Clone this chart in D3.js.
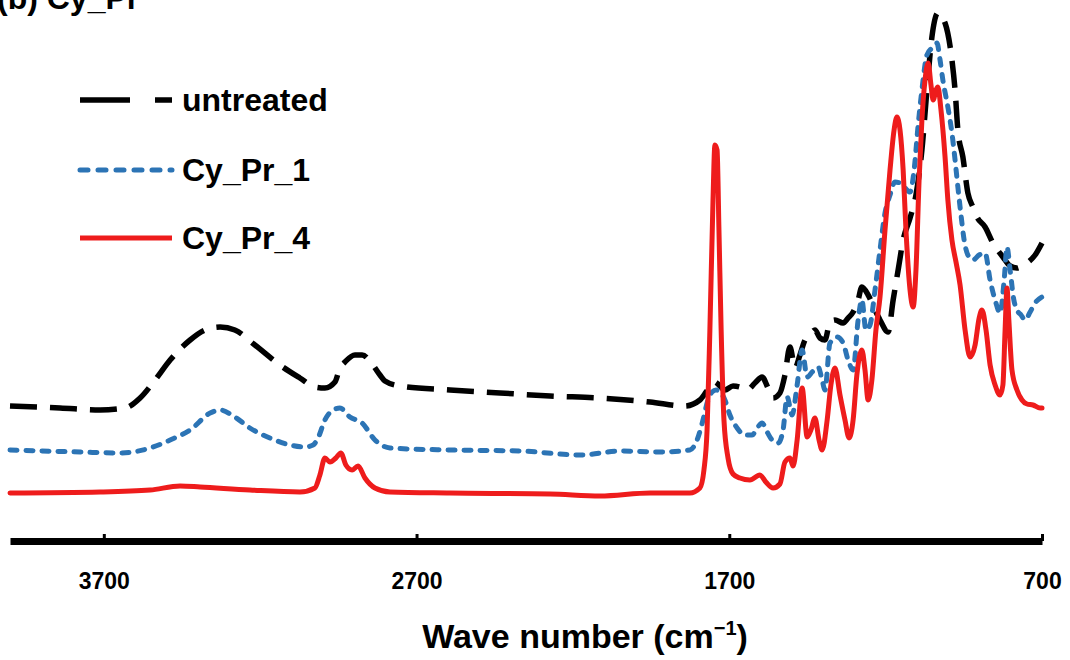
<!DOCTYPE html>
<html>
<head>
<meta charset="utf-8">
<script src="https://cdn.jsdelivr.net/npm/d3@7"></script>
<style>
  html, body { margin: 0; padding: 0; background: #fff; }
  svg { display: block; font-family: Arial, "Liberation Sans", sans-serif; }
</style>
</head>
<body>
<svg id="chart" width="1070" height="660"></svg>
<script>
// FTIR spectra, [wavenumber (cm-1), absorbance (a.u., offset)]
const untreated = [
  [4000,1.34],[3840,1.32],[3712,1.30],[3632,1.32],[3584,1.42],[3536,1.60],[3488,1.80],
  [3424,2.00],[3376,2.10],[3328,2.13],[3281,2.10],[3217,1.95],[3137,1.75],[3073,1.62],
  [3025,1.53],[2993,1.52],[2961,1.58],[2945,1.72],[2929,1.78],[2897,1.85],[2874,1.85],
  [2842,1.76],[2817,1.65],[2801,1.59],[2753,1.54],[2593,1.50],[2433,1.47],[2273,1.44],
  [2113,1.42],[1953,1.38],[1842,1.34],[1794,1.40],[1774,1.48],[1758,1.55],[1746,1.58],
  [1733,1.55],[1714,1.50],[1688,1.54],[1666,1.53],[1643,1.50],[1618,1.57],[1595,1.63],
  [1576,1.52],[1560,1.42],[1538,1.47],[1522,1.65],[1506,1.93],[1490,1.72],[1474,1.85],
  [1458,2.00],[1442,2.05],[1426,2.10],[1410,2.02],[1394,2.00],[1378,2.18],[1362,2.20],
  [1336,2.17],[1320,2.22],[1304,2.28],[1288,2.40],[1276,2.53],[1256,2.45],[1234,2.30],
  [1218,2.20],[1192,2.08],[1176,2.40],[1160,2.70],[1144,3.00],[1122,3.22],[1103,3.45],
  [1084,3.90],[1068,4.50],[1052,5.03],[1033,5.27],[1010,5.17],[988,4.80],[978,4.50],
  [969,4.10],[953,3.83],[937,3.47],[921,3.33],[908,3.23],[882,3.13],[857,2.97],
  [825,2.83],[802,2.74],[780,2.72],[764,2.74],[748,2.77],[722,2.85],[700,2.97]
];

const cyPr1 = [
  [4000,0.90],[3776,0.88],[3648,0.87],[3552,0.92],[3488,1.00],[3424,1.10],[3360,1.27],
  [3328,1.30],[3281,1.23],[3233,1.12],[3169,1.02],[3105,0.95],[3057,0.93],[3031,0.95],
  [3015,1.02],[2993,1.20],[2967,1.30],[2945,1.32],[2913,1.23],[2874,1.17],[2833,1.00],
  [2785,0.92],[2593,0.90],[2369,0.89],[2177,0.85],[2049,0.89],[1921,0.88],[1826,0.90],
  [1803,1.00],[1784,1.20],[1768,1.40],[1755,1.48],[1742,1.50],[1730,1.48],[1714,1.40],
  [1698,1.25],[1675,1.12],[1650,1.05],[1627,1.05],[1611,1.12],[1595,1.17],[1579,1.08],
  [1563,1.00],[1544,0.97],[1528,1.10],[1515,1.43],[1499,1.25],[1483,1.55],[1467,1.90],
  [1451,1.63],[1435,1.68],[1416,1.73],[1403,1.60],[1394,1.50],[1378,1.97],[1355,2.03],
  [1336,1.97],[1320,1.80],[1304,1.70],[1288,2.20],[1276,2.40],[1263,2.10],[1250,2.15],
  [1234,2.50],[1218,2.90],[1202,3.27],[1186,3.45],[1170,3.58],[1154,3.57],[1138,3.52],
  [1122,3.48],[1109,3.70],[1096,4.15],[1084,4.50],[1068,4.85],[1052,4.92],[1036,4.97],
  [1026,4.80],[1017,4.60],[1001,4.33],[988,4.07],[978,3.80],[969,3.53],[959,3.25],
  [949,3.00],[937,2.85],[921,2.80],[901,2.85],[882,2.87],[866,2.60],[850,2.40],
  [834,2.27],[821,2.60],[812,2.93],[802,2.70],[790,2.40],[780,2.30],[767,2.25],
  [754,2.20],[738,2.28],[722,2.37],[700,2.43]
];

const cyPr4 = [
  [4000,0.47],[3712,0.48],[3552,0.50],[3456,0.54],[3392,0.53],[3233,0.50],[3073,0.48],
  [3025,0.52],[3009,0.65],[2993,0.82],[2977,0.78],[2958,0.82],[2942,0.87],[2926,0.75],
  [2906,0.70],[2887,0.74],[2865,0.62],[2833,0.52],[2785,0.48],[2593,0.47],[2273,0.46],
  [2113,0.44],[1953,0.47],[1826,0.47],[1794,0.52],[1781,0.70],[1771,1.10],[1762,2.10],
  [1752,3.40],[1746,3.95],[1739,3.90],[1733,3.10],[1726,2.10],[1717,1.20],[1704,0.82],
  [1688,0.66],[1666,0.62],[1634,0.60],[1602,0.65],[1583,0.58],[1560,0.52],[1538,0.56],
  [1522,0.78],[1506,0.82],[1496,0.74],[1483,1.00],[1467,1.52],[1451,1.03],[1439,1.10],
  [1426,1.22],[1413,1.00],[1403,0.90],[1387,1.20],[1375,1.55],[1362,1.72],[1346,1.45],
  [1330,1.20],[1317,1.02],[1304,1.20],[1292,1.65],[1276,1.90],[1266,1.70],[1256,1.40],
  [1244,1.60],[1231,2.10],[1218,2.43],[1202,3.10],[1186,3.70],[1173,4.10],[1164,4.23],
  [1154,4.10],[1144,3.70],[1135,3.10],[1122,2.50],[1112,2.33],[1103,2.70],[1093,3.60],
  [1084,4.20],[1074,4.60],[1064,4.77],[1055,4.55],[1048,4.40],[1039,4.50],[1033,4.53],
  [1023,4.30],[1010,3.83],[1001,3.40],[988,3.00],[975,2.78],[962,2.55],[946,2.10],
  [930,1.83],[914,1.95],[901,2.22],[892,2.30],[879,2.10],[866,1.75],[850,1.55],
  [834,1.45],[825,1.55],[818,2.10],[812,2.52],[806,2.20],[796,1.70],[780,1.50],
  [764,1.40],[748,1.36],[729,1.35],[706,1.32],[700,1.32]
];

const seriesNames = ["untreated", "Cy_Pr_1", "Cy_Pr_4"];
const tickValues = [3700, 2700, 1700, 700];
const panelTitle = "(b) Cy_Pr";

const svg = d3.select("#chart");

const x = d3.scaleLinear().domain([4000, 700]).range([10, 1042]);
const y = d3.scaleLinear().domain([0, 5.4]).range([540, 0]);

const styles = [
  { data: untreated, color: "#000000", width: 5.5, dash: "27,13", cap: "butt" },
  { data: cyPr1, color: "#2c74b5", width: 5, dash: "7,9", cap: "round" },
  { data: cyPr4, color: "#ee1c1c", width: 5, dash: null, cap: "round" }
];

const line = d3.line()
  .x(d => x(d[0]))
  .y(d => y(d[1]))
  .curve(d3.curveMonotoneX);

// spectra
svg.append("g").selectAll("path")
  .data(styles)
  .join("path")
  .attr("d", s => line(s.data))
  .attr("fill", "none")
  .attr("stroke", s => s.color)
  .attr("stroke-width", s => s.width)
  .attr("stroke-dasharray", s => s.dash)
  .attr("stroke-linecap", s => s.cap)
  .attr("stroke-linejoin", "round");

// x axis: thick baseline, short ticks pointing up into the plot
const axis = d3.axisBottom(x)
  .tickValues(tickValues)
  .tickFormat(d3.format("d"))
  .tickSizeInner(-7)
  .tickSizeOuter(0)
  .tickPadding(32);

const gx = svg.append("g")
  .attr("transform", "translate(0,541)")
  .call(axis);
gx.select(".domain").attr("stroke", "#000").attr("stroke-width", 7);
gx.selectAll(".tick line").attr("stroke", "#000").attr("stroke-width", 3);
gx.selectAll(".tick text")
  .attr("fill", "#000")
  .style("font-size", "23px")
  .style("font-weight", "bold")
  .style("font-family", "Arial, 'Liberation Sans', sans-serif");

// axis title
const title = svg.append("text")
  .attr("x", 585)
  .attr("y", 648)
  .attr("text-anchor", "middle")
  .style("font-size", "34px")
  .style("font-weight", "bold")
  .text("Wave number (cm");
title.append("tspan").attr("dy", -13).style("font-size", "20px").text("\u22121");
title.append("tspan").attr("dy", 13).text(")");

// panel label along the top edge
svg.append("text")
  .attr("x", -3)
  .attr("y", 9)
  .style("font-size", "32px")
  .style("font-weight", "bold")
  .text(panelTitle);

// legend
const legendY = [100, 170, 238];
const lg = svg.append("g");
styles.forEach((s, i) => {
  lg.append("line")
    .attr("x1", 80).attr("x2", 172)
    .attr("y1", legendY[i]).attr("y2", legendY[i])
    .attr("stroke", s.color)
    .attr("stroke-width", s.width)
    .attr("stroke-linecap", i === 1 ? "round" : "butt")
    .attr("stroke-dasharray", i === 0 ? "50,25" : (i === 1 ? "8,10" : null));
  lg.append("text")
    .attr("x", 182)
    .attr("y", legendY[i] + 11)
    .style("font-size", "32px")
    .style("font-weight", "bold")
    .text(seriesNames[i]);
});
</script>
</body>
</html>
